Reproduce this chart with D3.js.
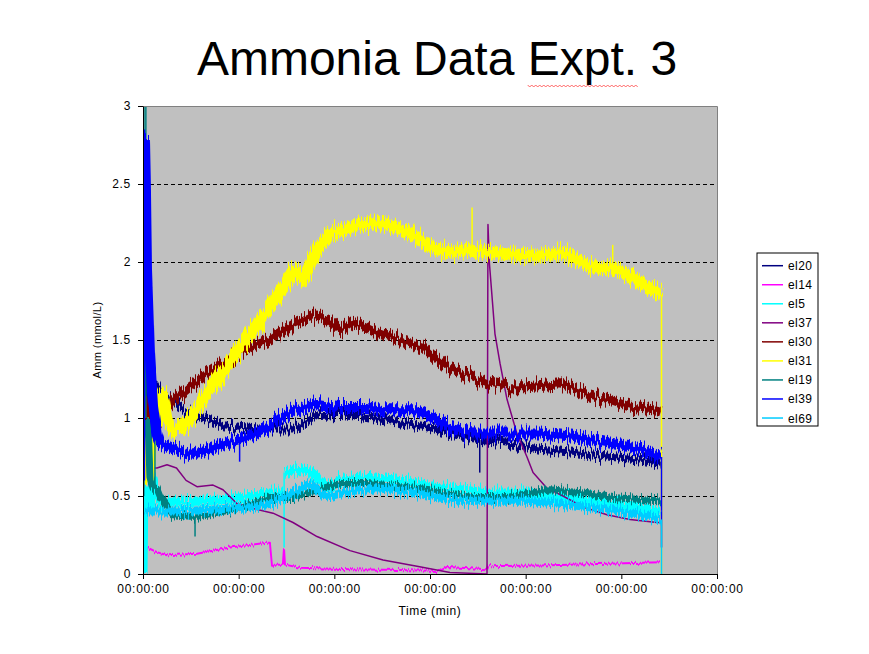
<!DOCTYPE html>
<html>
<head>
<meta charset="utf-8">
<script src="https://cdn.jsdelivr.net/npm/d3@7"></script>
<style>
  body { margin: 0; background: #fff; }
  text { font-family: "Liberation Sans", Arial, sans-serif; }
</style>
</head>
<body>
<svg id="canvas" width="869" height="654"></svg>
<script>
// ---- data (time in minutes, Amm in mmol/L) ----
var seriesNames = ["el20", "el14", "el5", "el37", "el30", "el31", "el19", "el39", "el69"];
var seriesColors = ["#000080", "#ff00ff", "#00ffff", "#800080", "#800000", "#ffff00", "#008080", "#0000ff", "#00ccff"];
var yTicks = [0, 0.5, 1, 1.5, 2, 2.5, 3];
var xTicks = [0, 10, 20, 30, 40, 50, 60];
var xTickLabel = "00:00:00";

var el20 = [[0,0.9],[0.2,1.6],[0.42,1.0],[0.73,1.2],[1.05,0.9],[1.25,1.22],[1.78,1.16],[3.14,1.1],[4.91,1.03],[6.69,0.99],[8.36,0.95],[10.14,0.94],[11.92,0.93],[15.68,0.93],[18.19,1.02],[20.59,1.03],[23.41,1.01],[26.86,0.97],[30.0,0.94],[32.09,0.9],[34.49,0.86],[38.05,0.84],[41.5,0.8],[44.95,0.78],[48.5,0.75],[51.95,0.73],[54.14,0.71]];
var el14 = [[0,0.2],[0.42,0.17],[1.46,0.14],[2.51,0.12],[5.64,0.13],[9.09,0.17],[12.96,0.2],[13.27,0.2],[13.48,0.06],[14.63,0.06],[14.74,0.16],[14.84,0.06],[16.41,0.04],[21.64,0.03],[26.86,0.025],[31.04,0.02],[31.78,0.045],[35.96,0.03],[36.06,0.05],[41.5,0.055],[48.5,0.065],[54.04,0.075]];
var el5 = [[0,0.0],[0.1,0.55],[0.42,0.5],[0.73,0.42],[1.05,0.6],[1.46,0.5],[1.78,0.46],[3.14,0.46],[6.69,0.47],[9.09,0.48],[11.5,0.5],[13.27,0.52],[14.7,0.52]];
var el5b = [[14.8,0.65],[16.41,0.67],[17.46,0.66],[18.5,0.6],[19.55,0.56],[20.59,0.6],[23.41,0.62],[26.86,0.6],[30.0,0.56],[33.14,0.54],[36.06,0.52],[40.14,0.52],[43.59,0.5],[47.77,0.47],[51.95,0.43],[54.04,0.4]];
var el37 = [[0.42,0.75],[0.73,0.68],[1.46,0.68],[2.51,0.7],[3.5,0.68],[4.5,0.6],[5.64,0.56],[7.32,0.57],[8.36,0.54],[9.83,0.45],[11.5,0.42],[13.59,0.39],[15.68,0.33],[18.19,0.24],[21.64,0.15],[25.09,0.09],[28.64,0.05],[32.09,0.01],[35.96,0.0],[36.06,2.24],[36.2,2.0],[36.79,1.54],[37.32,1.35],[38.05,1.12],[39.09,0.9],[40.14,0.75],[40.77,0.65],[42.23,0.55],[43.9,0.5],[45.99,0.43],[48.5,0.38],[50.9,0.35],[53.73,0.33],[54.14,0.33]];
var el30 = [[0,1.15],[0.42,1.0],[1.05,0.9],[1.78,1.0],[3.14,1.11],[4.91,1.2],[6.69,1.28],[8.36,1.35],[10.14,1.42],[11.92,1.47],[13.27,1.5],[15.68,1.6],[18.19,1.66],[19.55,1.62],[20.59,1.56],[21.95,1.62],[24.46,1.55],[26.86,1.5],[29.27,1.46],[30.73,1.38],[32.09,1.31],[33.14,1.29],[35.96,1.22],[38.05,1.2],[40.14,1.2],[43.59,1.22],[45.99,1.16],[48.5,1.12],[50.9,1.07],[53.73,1.05],[54.14,1.04]];
var el31 = [[0,0.95],[0.3,0.7],[0.52,0.62],[0.73,0.8],[1.05,0.95],[1.46,0.95],[2.09,1.14],[2.51,1.0],[3.14,0.93],[4.0,0.93],[4.91,1.0],[6.69,1.15],[8.36,1.3],[10.14,1.45],[11.92,1.6],[13.27,1.72],[14.74,1.85],[15.68,1.95],[16.72,1.88],[18.19,2.08],[19.55,2.18],[22.68,2.24],[25.09,2.25],[27.6,2.2],[30.0,2.1],[32.09,2.06],[34.18,2.08],[36.06,2.06],[38.05,2.05],[41.5,2.04],[44.11,2.06],[45.68,2.0],[47.77,1.96],[49.02,1.96],[50.9,1.92],[51.95,1.87],[53.52,1.82],[54.1,1.79]];
var el19 = [[0.52,1.0],[0.73,0.62],[1.05,0.55],[1.46,0.55],[1.78,0.5],[3.14,0.38],[4.91,0.37],[5.64,0.37],[7.32,0.39],[9.09,0.41],[11.5,0.45],[13.27,0.49],[15.68,0.49],[18.19,0.54],[20.59,0.58],[23.41,0.58],[26.86,0.56],[30.0,0.54],[31.04,0.52],[34.49,0.49],[38.05,0.49],[42.54,0.54],[45.99,0.52],[49.13,0.49],[53.73,0.47],[54.14,0.47]];
var el39 = [[0.2,2.8],[0.3,2.5],[0.42,1.95],[0.73,1.4],[1.05,1.08],[1.46,0.9],[1.78,0.84],[3.14,0.8],[4.91,0.77],[6.69,0.79],[8.36,0.83],[10.14,0.86],[11.92,0.9],[13.27,0.95],[15.68,1.05],[18.19,1.09],[20.59,1.07],[23.41,1.07],[25.09,1.05],[28.64,1.05],[30.73,0.99],[32.09,0.93],[34.49,0.9],[38.05,0.9],[41.5,0.9],[44.95,0.88],[48.5,0.84],[51.95,0.8],[54.1,0.75]];
var el69 = [[0.3,0.42],[0.73,0.4],[1.46,0.4],[3.14,0.4],[6.69,0.41],[9.09,0.42],[11.5,0.43],[13.27,0.45],[15.68,0.52],[17.46,0.58],[18.5,0.52],[19.55,0.5],[21.64,0.53],[24.46,0.55],[27.6,0.53],[30.0,0.5],[33.14,0.47],[36.06,0.47],[40.14,0.47],[43.59,0.45],[47.77,0.42],[51.95,0.38],[54.1,0.35]];

// single-sample jumps and glitches: series, time, from level, to level
var jumps = [
  ["el31", 34.4, 2.08, 2.35],
  ["el31", 49.1, 1.96, 2.11],
  ["el20", 35.2, 0.86, 0.65],
  ["el19", 5.44, 0.37, 0.24],
  ["el39", 10.1, 0.86, 0.72],
  ["el19", 1.25, 0.55, 1.22],
  ["el19", 0.1, 0.5, 3.0],
  ["el19", 0.3, 3.0, 1.0],
  ["el39", 0.15, 0.6, 2.85],
  ["el69", 0.05, 0.0, 0.55],
  ["el5", 14.75, 0.17, 0.65],
  ["el31", 54.2, 1.79, 0.0],
  ["el39", 54.2, 0.75, 0.17],
  ["el69", 54.2, 0.35, 0.0]
];

var seriesData = [[el20], [el14], [el5, el5b], [el37], [el30], [el31], [el19], [el39], [el69]];
// thickness of the noisy band each trace shows, and how jittery it is
var bandWidth = [7, 2, 9, 1.5, 9, 12, 7, 10, 8];
var jitter = [10, 3, 10, 0, 10, 12, 8, 10, 10];

// ---- layout ----
var svg = d3.select('#canvas');
var plot = { left: 143, right: 717, top: 106, bottom: 574 };

var xScale = d3.scaleLinear().domain([0, 60]).range([plot.left, plot.right]);
var yScale = d3.scaleLinear().domain([0, 3]).range([plot.bottom, plot.top]);

var defs = svg.append('defs');
defs.append('clipPath').attr('id', 'clip').append('rect')
  .attr('x', plot.left).attr('y', plot.top)
  .attr('width', plot.right - plot.left).attr('height', plot.bottom - plot.top);

// texture that makes a trace look like a noisy sampled signal
Array.from(new Set(jitter)).filter(function(j){ return j > 0; }).forEach(function(j){
  var f = defs.append('filter').attr('id', 'jit' + j)
    .attr('color-interpolation-filters', 'sRGB')
    .attr('x', '-2%').attr('y', '-30%').attr('width', '104%').attr('height', '160%');
  f.append('feTurbulence').attr('type', 'fractalNoise').attr('baseFrequency', '0.7 0.004')
    .attr('numOctaves', 2).attr('seed', j).attr('result', 'n');
  f.append('feColorMatrix').attr('in', 'n').attr('type', 'matrix')
    .attr('values', '0 0 0 0 0.5  0 1 0 0 0  0 0 0 0 0  0 0 0 0 1').attr('result', 'm');
  f.append('feDisplacementMap').attr('in', 'SourceGraphic').attr('in2', 'm')
    .attr('scale', j * 2).attr('xChannelSelector', 'R').attr('yChannelSelector', 'G');
});

svg.append('rect')
  .attr('x', plot.left).attr('y', plot.top)
  .attr('width', plot.right - plot.left).attr('height', plot.bottom - plot.top)
  .attr('fill', '#c0c0c0');

// gridlines
svg.append('g').selectAll('line')
  .data(yTicks.filter(function(d){ return d > 0 && d < 3; }))
  .enter().append('line')
  .attr('x1', plot.left).attr('x2', plot.right)
  .attr('y1', function(d){ return yScale(d); }).attr('y2', function(d){ return yScale(d); })
  .attr('stroke', '#000').attr('stroke-width', 1).attr('stroke-dasharray', '4,3')
  .attr('shape-rendering', 'crispEdges');

// traces
var lineGen = d3.line().x(function(d){ return xScale(d[0]); }).y(function(d){ return yScale(d[1]); });
var traces = svg.append('g').attr('clip-path', 'url(#clip)');
seriesData.forEach(function(parts, i){
  var g = traces.append('g');
  parts.forEach(function(s){
    g.append('path')
      .attr('d', lineGen(s))
      .attr('fill', 'none')
      .attr('stroke', seriesColors[i])
      .attr('stroke-width', bandWidth[i])
      .attr('stroke-linejoin', 'round')
      .attr('filter', jitter[i] > 0 ? 'url(#jit' + jitter[i] + ')' : null);
  });
  jumps.filter(function(p){ return p[0] === seriesNames[i]; }).forEach(function(p){
    g.append('line')
      .attr('x1', xScale(p[1])).attr('x2', xScale(p[1]))
      .attr('y1', yScale(p[2])).attr('y2', yScale(p[3]))
      .attr('stroke', seriesColors[i]).attr('stroke-width', 1.5);
  });
});

// plot border (top/right)
svg.append('path')
  .attr('d', 'M' + plot.left + ',' + (plot.top + 0.5) + 'H' + (plot.right + 0.5) + 'V' + plot.bottom)
  .attr('fill', 'none').attr('stroke', '#808080').attr('stroke-width', 1);

// axes
var xAxis = svg.append('g').attr('transform', 'translate(0,' + plot.bottom + ')')
  .call(d3.axisBottom(xScale).tickValues(xTicks).tickSize(5).tickSizeOuter(0).tickFormat(function(){ return xTickLabel; }));
var yAxis = svg.append('g').attr('transform', 'translate(' + plot.left + ',0)')
  .call(d3.axisLeft(yScale).tickValues(yTicks).tickSize(5).tickSizeOuter(0).tickFormat(function(d){ return String(d); }));

[xAxis, yAxis].forEach(function(a){
  a.select('.domain').attr('stroke', '#000');
  a.selectAll('.tick line').attr('stroke', '#000');
  a.selectAll('.tick text').attr('fill', '#000')
    .style('font-family', '"Liberation Sans", Arial, sans-serif')
    .style('font-size', '12px').style('letter-spacing', '0.7px');
});
xAxis.selectAll('.tick text').attr('y', 10);
yAxis.selectAll('.tick text').attr('x', -12);

// titles
var title = svg.append('text')
  .attr('x', 437).attr('y', 75).attr('text-anchor', 'middle')
  .style('font-size', '48px').attr('fill', '#000')
  .text('Ammonia Data Expt. 3');

// spell-check squiggle under "Expt."
var tnode = title.node();
var tStart = 437 - tnode.getComputedTextLength() / 2;
var sx0 = tStart + tnode.getSubStringLength(0, 13);
var sx1 = sx0 + tnode.getSubStringLength(13, 5);
var sq = 'M' + sx0 + ',85';
for (var k = 0, px = sx0; px < sx1; k++) { px += 2; sq += 'L' + px + ',' + (k % 2 ? 85 : 87); }
svg.append('path').attr('d', sq).attr('fill', 'none').attr('stroke', '#ff4040').attr('stroke-width', 0.8);

svg.append('text')
  .attr('x', 430).attr('y', 615).attr('text-anchor', 'middle')
  .style('font-size', '12px').style('letter-spacing', '0.6px')
  .text('Time (min)');

svg.append('text')
  .attr('transform', 'translate(101,340) rotate(-90)').attr('text-anchor', 'middle')
  .style('font-size', '11px').style('letter-spacing', '0.4px')
  .text('Amm (mmol/L)');

// legend
var legend = svg.append('g').attr('transform', 'translate(757,253)');
legend.append('rect').attr('width', 61).attr('height', 173)
  .attr('fill', '#fff').attr('stroke', '#000').attr('stroke-width', 1);
var items = legend.selectAll('g.item').data(seriesNames).enter().append('g')
  .attr('transform', function(d, i){ return 'translate(0,' + (12.7 + i * 19.04) + ')'; });
items.append('line').attr('x1', 5).attr('x2', 26).attr('y1', 0).attr('y2', 0)
  .attr('stroke', function(d, i){ return seriesColors[i]; }).attr('stroke-width', 1.5);
items.append('text').attr('x', 31).attr('y', 4.5)
  .style('font-size', '12px').style('letter-spacing', '0.4px')
  .text(function(d){ return d; });
</script>
</body>
</html>
